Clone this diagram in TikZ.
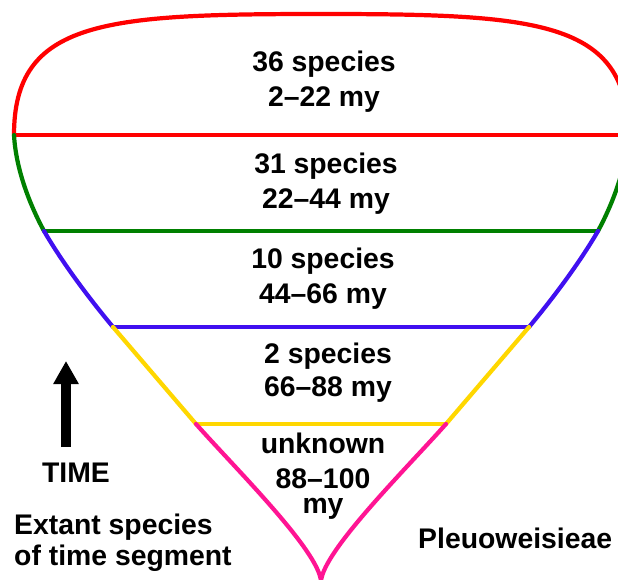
\documentclass[tikz,border=0pt]{standalone}
\usepackage{fontspec}
\setmainfont{Liberation Sans}
\usetikzlibrary{arrows.meta}
\definecolor{segred}{RGB}{255,0,0}
\definecolor{seggreen}{RGB}{0,128,0}
\definecolor{segblue}{RGB}{64,16,240}
\definecolor{segyellow}{RGB}{255,215,0}
\definecolor{segpink}{RGB}{255,20,147}
\begin{document}
\begin{tikzpicture}[x=0.03cm, y=-0.03cm,
    every node/.style={inner sep=0pt, font=\fontsize{24.2}{29.8}\selectfont\bfseries},
    rim/.style={line width=3.6pt, line cap=round},
    cut/.style={line width=2.6pt},
    band/.style={align=center, anchor=base}]
    \clip (0,0) rectangle (618,579);
    % segment borders, left and right
    \coordinate (l0) at (14,135);  \coordinate (r0) at (628,135);
    \coordinate (l1) at (44,231);  \coordinate (r1) at (598,231);
    \coordinate (l2) at (113,327); \coordinate (r2) at (529,327);
    \coordinate (l3) at (196,424); \coordinate (r3) at (446,424);
    \coordinate (tip) at (321,581);
    % 2-22 my
    \draw[rim, segred] (l0) .. controls (14,20) and (105,14) .. (321,14)
        .. controls (537,14) and (628,20) .. (r0);
    \draw[cut, segred] (l0) -- (r0);
    % 22-44 my
    \draw[rim, seggreen] (l0) .. controls (16,170) and (30,205) .. (l1);
    \draw[rim, seggreen] (r0) .. controls (626,170) and (612,205) .. (r1);
    \draw[cut, seggreen] (l1) -- (r1);
    % 44-66 my
    \draw[rim, segblue] (l1) .. controls (62,262) and (88,297) .. (l2);
    \draw[rim, segblue] (r1) .. controls (580,262) and (554,297) .. (r2);
    \draw[cut, segblue] (l2) -- (r2);
    % 66-88 my
    \draw[rim, segyellow] (l2) -- (l3);
    \draw[rim, segyellow] (r2) -- (r3);
    \draw[cut, segyellow] (l3) -- (r3);
    % 88-100 my
    \draw[rim, segpink] (l3) .. controls (236,469) and (318,550) .. (tip);
    \draw[rim, segpink] (r3) .. controls (406,469) and (324,550) .. (tip);
    \node[band] (seg1) at (324,106) {36 species\\2--22 my};
    \node[band] (seg2) at (326,208) {31 species\\22--44 my};
    \node[band] (seg3) at (323,303) {10 species\\44--66 my};
    \node[band] (seg4) at (328,396) {2 species\\[-0.06cm]66--88 my};
    \node[band] (seg5) at (323,513) {unknown\\88--100\\[-0.3cm]my};
    % time arrow
    \coordinate (t0) at (66,447);
    \coordinate (t1) at (66,361);
    \draw[line width=7.7pt, -{Triangle[width=0.72cm, length=0.69cm]}] (t0) -- (t1);
    \node[anchor=base] (time) at (76,482) {TIME};
    \node[anchor=base west, align=left] (extant) at (14,565) {Extant species\\[-0.12cm]of time segment};
    \node[anchor=base west] (tribe) at (418,548) {Pleuoweisieae};
\end{tikzpicture}
\end{document}
